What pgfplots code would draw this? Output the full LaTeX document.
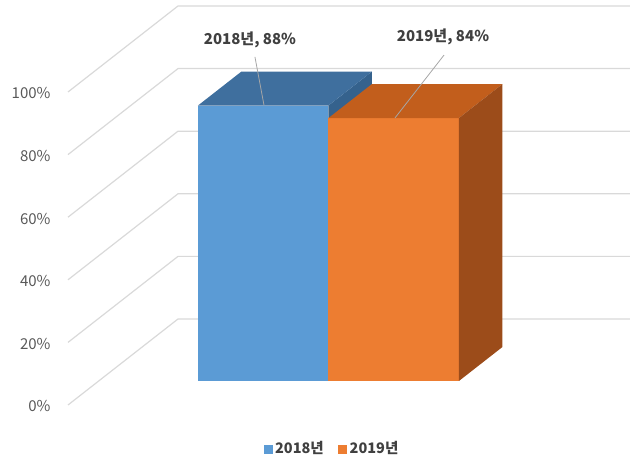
\documentclass[border=0pt]{standalone}
\usepackage{pgfplots}
\pgfplotsset{compat=1.18}
\usepackage{fontspec}
\setmainfont{Noto Sans CJK KR}
\definecolor{gridc}{HTML}{D9D9D9}
\definecolor{tickc}{HTML}{595959}
\definecolor{labc}{HTML}{404040}
\definecolor{leadc}{HTML}{A6A6A6}
\definecolor{blueF}{HTML}{5B9BD5}
\definecolor{blueT}{HTML}{3F6F9E}
\definecolor{blueS}{HTML}{35628D}
\definecolor{orangeF}{HTML}{ED7D31}
\definecolor{orangeT}{HTML}{C25E1C}
\definecolor{orangeS}{HTML}{9C4C1A}
\begin{document}
\begin{tikzpicture}
\begin{axis}[
  x={(130.5pt,0pt)}, y={(110pt,86pt)}, z={(0pt,3.13pt)},
  xmin=-0.2605, xmax=3.203, ymin=0, ymax=1, zmin=0, zmax=100,
  hide axis, clip=false,
]
\path (axis cs:-0.7816,0,129.39) -- (axis cs:4.1303,0,-17.89);
\pgfplotsinvokeforeach{0,20,40,60,80,100}{
  \draw[gridc, line width=1.2pt] (axis cs:-0.2605,0,#1) -- (axis cs:-0.2605,1,#1) -- (axis cs:3.203,1,#1);
  \node[anchor=east, text=tickc, font=\fontsize{15}{17}\selectfont, xshift=-14pt, yshift=-1.5pt] at (axis cs:-0.2605,0,#1) {#1\%};
}
% 2018
\addplot3[fill=blueS, draw=none, mark=none] coordinates {(1.5,0.279,0) (1.5,0.674,0) (1.5,0.674,88) (1.5,0.279,88)} -- cycle;
\addplot3[fill=blueT, draw=none, mark=none] coordinates {(0.5,0.279,88) (1.5,0.279,88) (1.5,0.674,88) (0.5,0.674,88)} -- cycle;
\addplot3[fill=blueF, draw=none, mark=none] coordinates {(0.5,0.279,0) (1.5,0.279,0) (1.5,0.279,88) (0.5,0.279,88)} -- cycle;
% 2019
\addplot3[fill=orangeF, draw=none, mark=none] coordinates {(1.5,0.279,0) (2.5,0.279,0) (2.5,0.279,84) (1.5,0.279,84)} -- cycle;
\addplot3[fill=orangeT, draw=none, mark=none] coordinates {(1.5,0.279,84) (2.5,0.279,84) (2.5,0.674,84) (1.5,0.674,84)} -- cycle;
\addplot3[fill=orangeS, draw=none, mark=none] coordinates {(2.5,0.279,0) (2.5,0.674,0) (2.5,0.674,84) (2.5,0.279,84)} -- cycle;
% data labels
\draw[leadc, line width=0.8pt] (axis cs:1.172,0,111.2) -- (axis cs:1.241,0,95.85);
\draw[leadc, line width=0.8pt] (axis cs:2.621,0,111.8) -- (axis cs:2.245,0,91.7);
\node[text=labc, font=\fontsize{15}{17}\selectfont\bfseries] at (axis cs:1.134,0,116.8) {2018년, 88\%};
\node[text=labc, font=\fontsize{15}{17}\selectfont\bfseries] at (axis cs:2.613,0,117.45) {2019년, 84\%};
% legend
\node[text=labc, font=\fontsize{14.5}{16}\selectfont\bfseries] at (axis cs:1.755,0,-13.74) {\textcolor{blueF}{\rule{9pt}{9pt}}\,2018년\quad\textcolor{orangeF}{\rule{9pt}{9pt}}\,2019년};
\end{axis}
\end{tikzpicture}
\end{document}
